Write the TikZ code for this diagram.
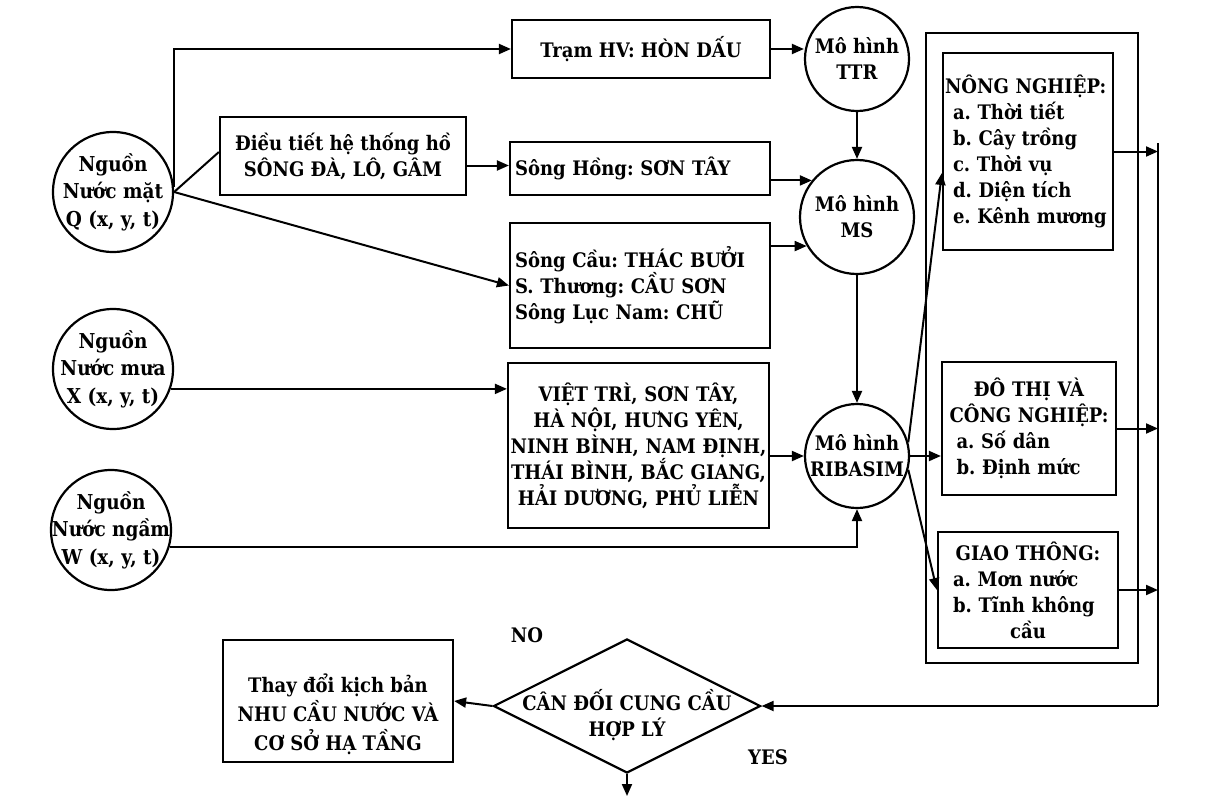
\documentclass[tikz,border=0pt]{standalone}
\usepackage{fontspec}
\setmainfont[FakeStretch=0.9]{DejaVu Serif}
\usetikzlibrary{arrows.meta,shapes.geometric}
\newcommand{\dropbox}[2]{\raisebox{#1}[0pt][0pt]{\begin{tabular}{@{}c@{}}#2\end{tabular}}}
\frenchspacing
\begin{document}
\begin{tikzpicture}[x=1pt,y=-1pt,
  txt/.style={font=\fontsize{20}{26}\selectfont\bfseries},
  box/.style={txt,draw,line width=2.2pt,inner sep=2pt},
  src/.style={circle,draw,line width=2.2pt,inner sep=-15pt,align=center,minimum size=120pt,font=\fontsize{20.5}{27.5}\selectfont\bfseries},
  model/.style={txt,circle,draw,line width=2.2pt,inner sep=-15pt,align=center},
  arr/.style={line width=2pt,-{Triangle[length=12pt,width=10pt]}},
  link/.style={line width=2pt}]
\useasboundingbox (0,0) rectangle (1212,797);

% water sources
\node[src] (surf) at (113,192) {Nguồn\\Nước mặt\\Q (x, y, t)};
\node[src] (rain) at (113,369) {Nguồn\\Nước mưa\\X (x, y, t)};
\node[src] (ground) at (111,530) {Nguồn\\Nước ngầm\\W (x, y, t)};

% stations and reservoirs
\node[box,minimum width=258pt,minimum height=58pt] (hondau) at (641,49) {Trạm HV: HÒN DẤU};
\node[box,align=center,minimum width=246pt,minimum height=78pt] (reservoir) at (343,156) {Điều tiết hệ thống hồ\\SÔNG ĐÀ, LÔ, GÂM};
\node[box,align=left,text width=250pt,inner xsep=5pt,minimum height=53pt] (sontay) at (640,168.5) {Sông Hồng: SƠN TÂY};
\node[box,align=left,text width=250pt,inner xsep=5pt,minimum height=125pt] (tributary) at (640,285.5) {Sông Cầu: THÁC BƯỞI\\S. Thương: CẦU SƠN\\Sông Lục Nam: CHŨ};
\node[box,align=center,text width=257pt,minimum height=165pt] (cities) at (638.5,445.5) {VIỆT TRÌ, SƠN TÂY,\\HÀ NỘI, HƯNG YÊN,\\NINH BÌNH, NAM ĐỊNH,\\THÁI BÌNH, BẮC GIANG,\\HẢI DƯƠNG, PHỦ LIỄN};

% models
\node[model,minimum size=104pt] (ttr) at (857,59) {Mô hình\\TTR};
\node[model,minimum size=114pt] (ms) at (857,217) {Mô hình\\MS};
\node[model,minimum size=104pt] (ribasim) at (857,456) {Mô hình\\RIBASIM};

% water demand
\node[draw,line width=2.2pt,minimum width=212pt,minimum height=630pt,inner sep=0pt] (demand) at (1032,348) {};
\node[box,align=left,text width=166pt,minimum height=197pt] (agri) at (1028,151.5) {NÔNG NGHIỆP:\\\hspace*{8pt}a. Thời tiết\\\hspace*{8pt}b. Cây trồng\\\hspace*{8pt}c. Thời vụ\\\hspace*{8pt}d. Diện tích\\\hspace*{8pt}e. Kênh mương};
\node[box,align=center,text width=170pt,minimum height=133pt] (urban) at (1029,428.5) {ĐÔ THỊ VÀ\\CÔNG NGHIỆP:\\\makebox[145pt][l]{a. Số dân}\\\makebox[145pt][l]{b. Định mức}};
\node[box,align=center,text width=176pt,minimum height=116pt] (transport) at (1028,590) {GIAO THÔNG:\\\makebox[150pt][l]{a. Mơn nước}\\\makebox[150pt][l]{b. Tĩnh không}\\cầu};

% balance check
\node[txt,diamond,aspect=2,draw,line width=2.2pt,minimum width=267pt,minimum height=134pt,inner sep=0pt] (balance) at (627,706) {\dropbox{-16pt}{CÂN ĐỐI CUNG CẦU\\HỢP LÝ}};
\node[box,minimum width=230pt,minimum height=122pt] (scenario) at (338,701) {\dropbox{-20pt}{Thay đổi kịch bản\\NHU CẦU NƯỚC VÀ\\CƠ SỞ HẠ TẦNG}};
\node[txt] (no) at (527,635) {NO};
\node[txt] (yes) at (768,757) {YES};
\coordinate (coltop) at (1158,143);
\coordinate (colbot) at (1158,706);
\coordinate (sink) at (627,796);

% connectors
\draw[arr] (surf.5) |- (hondau.west);
\draw[link] (surf.east) -- ([yshift=4pt]reservoir.west);
\draw[arr] (surf.east) -- (tributary.west);
\draw[arr] ([yshift=3pt]reservoir.east |- sontay.west) -- ([yshift=3pt]sontay.west);
\draw[arr] (rain.-19) -- (rain.-19 -| cities.west);
\draw[arr] (ground.-16) -| (ribasim.south);
\draw[arr] (hondau.east) -- (hondau.east -| ttr.west);
\draw[arr] (ttr.south) -- (ms.north);
\draw[arr] (sontay.east |- ms.141) -- (ms.141);
\draw[arr] (tributary.east |- ms.210) -- (ms.210);
\draw[arr] (ms.south) -- (ribasim.north);
\draw[arr] (cities.east |- ribasim.west) -- (ribasim.west);
\draw[arr] (ribasim.15) -- ([yshift=-21.5pt]agri.west);
\draw[arr] (ribasim.east) -- (ribasim.east -| urban.west);
\draw[arr] (ribasim.-15) -- (transport.west);
\draw[arr] (agri.east) -- (agri.east -| coltop);
\draw[arr] (urban.east) -- (urban.east -| coltop);
\draw[arr] (transport.east) -- (transport.east -| coltop);
\draw[link] (coltop) -- (colbot);
\draw[arr] (colbot) -- (balance.east);
\draw[arr] (balance.west) -- (scenario.east);
\draw[arr] (balance.south) -- (sink);
\end{tikzpicture}
\end{document}
